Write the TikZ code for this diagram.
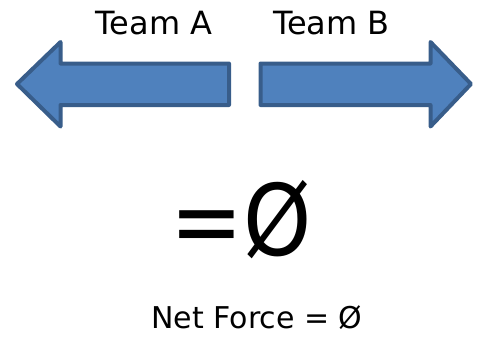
\documentclass[tikz,border=0pt]{standalone}
\usepackage{fontspec}
\setmainfont{DejaVu Sans}

\definecolor{arrowfill}{RGB}{79,129,189}
\definecolor{arrowline}{RGB}{56,93,138}

\tikzset{every picture/.style={line width=0.75pt}}
\tikzset{
  forcearrow/.style={draw=arrowline, fill=arrowfill, line width=3pt, line join=round},
  teamlabel/.style={inner sep=0pt, anchor=base, font=\fontsize{24}{28}\selectfont},
}

\begin{document}
\begin{tikzpicture}[x=0.75pt,y=0.75pt,yscale=-1,xscale=1]
\useasboundingbox (0,0) rectangle (478,337);

%Shape: Left Arrow [id:teamA]
\draw  [forcearrow] (17,84) -- (60.5,42) -- (60.5,63.5) -- (229,63.5) -- (229,105) -- (60.5,105) -- (60.5,126.5) -- cycle ;
%Shape: Right Arrow [id:teamB]
\draw  [forcearrow] (471,84) -- (430.5,42) -- (430.5,63.5) -- (260.5,63.5) -- (260.5,105) -- (430.5,105) -- (430.5,126.5) -- cycle ;

% Text Node
\draw (154,34) node (teamA) [teamlabel] {Team A};
% Text Node
\draw (331.5,34) node (teamB) [teamlabel] {Team B};
% Text Node
\draw (241,255) node (result) [inner sep=0pt, anchor=base, font=\fontsize{74}{80}\selectfont] {\scalebox{0.88}[1]{=Ø}};
% Text Node
\draw (257,328) node (netforce) [inner sep=0pt, anchor=base, font=\fontsize{22.5}{26}\selectfont] {Net Force = Ø};

\end{tikzpicture}
\end{document}
